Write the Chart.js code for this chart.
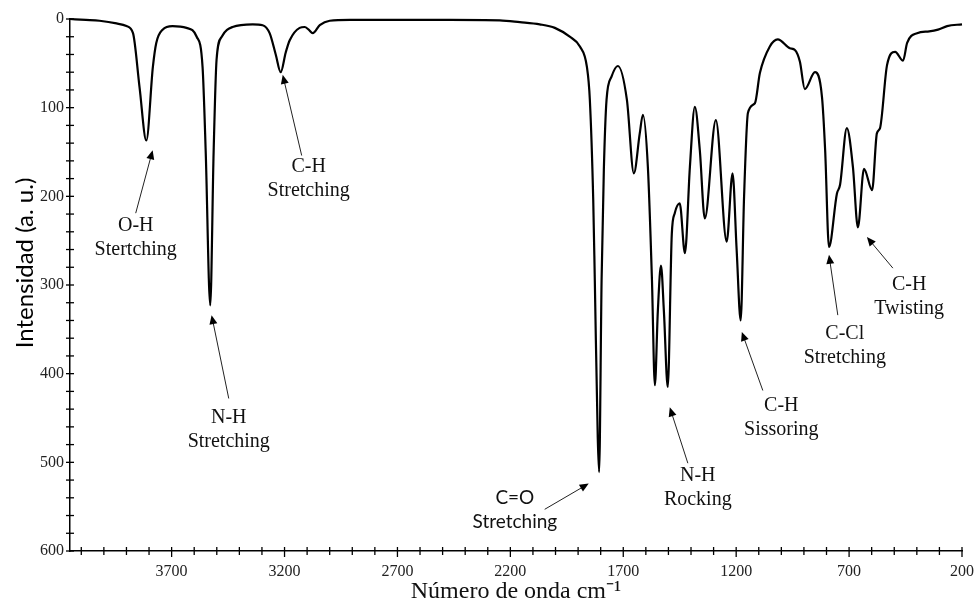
<!DOCTYPE html>
<html lang="es">
<head>
  <meta charset="UTF-8" />
  <title>Espectro IR</title>
  <script src="https://cdn.jsdelivr.net/npm/chart.js"></script>
  <style>
    body {
      margin: 0;
      background: #fff;
    }
    #wrap {
      width: 977px;
      height: 609px;
      position: relative;
    }
  </style>
</head>
<body>
  <div id="wrap"><canvas id="irChart"></canvas></div>

  <script>
    // spectrum (cm-1, a.u.)
    const wavenumber = [4150, 4080, 4019, 3944, 3900, 3871, 3842, 3812, 3783, 3768, 3740, 3696, 3634, 3589, 3563, 3549, 3529, 3514, 3501, 3478, 3430, 3341, 3297, 3266, 3239, 3217, 3195, 3177, 3133, 3111, 3093, 3075, 3044, 3000, 2911, 2700, 2468, 2247, 2158, 2070, 2003, 1937, 1892, 1861, 1848, 1833, 1826, 1813, 1807, 1796, 1786, 1774, 1752, 1724, 1684, 1653, 1627, 1613, 1591, 1573, 1560, 1547, 1533, 1520, 1503, 1485, 1472, 1450, 1427, 1405, 1383, 1361, 1339, 1290, 1242, 1216, 1198, 1180, 1165, 1148, 1117, 1095, 1051, 1016, 962, 940, 918, 896, 851, 820, 806, 789, 754, 740, 710, 683, 661, 634, 598, 577, 563, 532, 496, 461, 443, 399, 345, 306, 266, 200];
    const intensity = [0, 1, 2, 5, 8, 16, 77, 137, 54, 27, 12, 8, 10, 20, 54, 150, 323, 150, 46, 20, 9, 6, 7, 16, 40, 60, 38, 24, 10, 9, 12, 16, 7, 2, 1, 1, 1, 1.5, 3.5, 6, 10, 20, 31, 54, 91, 204, 295, 472, 511, 295, 170, 91, 65, 53, 91, 174, 129, 108, 167, 294, 413, 330, 278, 330, 415, 242, 219, 208, 264, 167, 99, 148, 225, 114, 251, 174, 260, 340, 200, 106, 95, 61, 31, 23, 33, 35, 48, 79, 60, 88, 148, 257, 197, 187, 123, 167, 235, 169, 193, 129, 123, 52, 37, 47, 27, 16, 14, 12, 8, 6];

    const xTickLabels = [3700, 3200, 2700, 2200, 1700, 1200, 700, 200];
    const yTickLabels = [0, 100, 200, 300, 400, 500, 600];

    // band assignments: text, label anchor, arrow tail, arrow head (cm-1, a.u.)
    const bandLabels = [['O-H', 'Stertching'], ['N-H', 'Stretching'], ['C-H', 'Stretching'], ['C=O', 'Stretching'], ['N-H', 'Rocking'], ['C-H', 'Sissoring'], ['C-Cl', 'Stretching'], ['C-H', 'Twisting']];
    const labelAt = [[3859, 233], [3447, 450], [3093, 167], [2180, 540], [1370, 515], [1000, 436], [719, 355], [434, 300]];
    const arrowFrom = [[3859, 219], [3447, 428], [3124, 154], [2048, 553], [1414, 501], [1082, 419], [750, 334], [506, 281]];
    const arrowTo = [[3784, 148], [3523, 334], [3208, 63], [1853, 524], [1494, 438], [1175, 353], [789, 266], [621, 246]];

    const points = wavenumber.map((w, i) => ({ x: w, y: intensity[i] }));

    const crossTicks = {
      id: 'crossTicks',
      afterDraw(chart) {
        const ctx = chart.ctx;
        const xs = chart.scales.x, ys = chart.scales.y;
        const area = chart.chartArea;
        ctx.save();
        ctx.strokeStyle = '#000';
        ctx.lineWidth = 1.3;
        xs.ticks.forEach(t => {
          const px = xs.getPixelForValue(t.value);
          const big = xTickLabels.includes(t.value);
          ctx.beginPath();
          ctx.moveTo(px, area.bottom - 4);
          ctx.lineTo(px, area.bottom + (big ? 6 : 4));
          ctx.stroke();
        });
        ys.ticks.forEach(t => {
          const py = ys.getPixelForValue(t.value);
          ctx.beginPath();
          ctx.moveTo(area.left - 4, py);
          ctx.lineTo(area.left + 4, py);
          ctx.stroke();
        });

        // y title
        ctx.fillStyle = '#000';
        ctx.font = '24px Lato';
        ctx.textAlign = 'center';
        ctx.textBaseline = 'middle';
        ctx.translate(25, 263);
        ctx.rotate(-Math.PI / 2);
        ctx.fillText('Intensidad (a. u.)', 0, 0);
        ctx.restore();

        // band labels and arrows
        ctx.save();
        ctx.textAlign = 'center';
        ctx.textBaseline = 'middle';
        bandLabels.forEach((lines, i) => {
          const lx = xs.getPixelForValue(labelAt[i][0]);
          const ly = ys.getPixelForValue(labelAt[i][1]);
          ctx.fillStyle = '#111';
          ctx.font = lines[0] === 'C=O' ? '19px Lato' : '20px "Liberation Serif"';
          ctx.fillText(lines[0], lx, ly);
          ctx.fillText(lines[1], lx, ly + 24);

          const x0 = xs.getPixelForValue(arrowFrom[i][0]);
          const y0 = ys.getPixelForValue(arrowFrom[i][1]);
          const x1 = xs.getPixelForValue(arrowTo[i][0]);
          const y1 = ys.getPixelForValue(arrowTo[i][1]);
          const a = Math.atan2(y1 - y0, x1 - x0);
          ctx.strokeStyle = '#222';
          ctx.lineWidth = 1;
          ctx.beginPath();
          ctx.moveTo(x0, y0);
          ctx.lineTo(x1 - 6 * Math.cos(a), y1 - 6 * Math.sin(a));
          ctx.stroke();
          ctx.fillStyle = '#000';
          ctx.beginPath();
          ctx.moveTo(x1, y1);
          ctx.lineTo(x1 - 9 * Math.cos(a) + 4 * Math.sin(a), y1 - 9 * Math.sin(a) - 4 * Math.cos(a));
          ctx.lineTo(x1 - 9 * Math.cos(a) - 4 * Math.sin(a), y1 - 9 * Math.sin(a) + 4 * Math.cos(a));
          ctx.closePath();
          ctx.fill();
        });
        ctx.restore();
      }
    };

    new Chart(document.getElementById('irChart'), {
      type: 'line',
      data: {
        datasets: [{
          data: points,
          borderColor: '#000',
          borderWidth: 2.2,
          pointRadius: 0,
          cubicInterpolationMode: 'monotone',
          fill: false,
          clip: false
        }]
      },
      options: {
        responsive: true,
        maintainAspectRatio: false,
        animation: false,
        events: [],
        layout: { padding: { left: 0, right: 15, top: 19, bottom: 0 } },
        plugins: {
          legend: { display: false },
          tooltip: { enabled: false }
        },
        scales: {
          x: {
            type: 'linear',
            reverse: true,
            min: 200,
            max: 4150,
            grid: { display: false, drawTicks: false },
            border: { display: true, color: '#000', width: 1.5 },
            afterBuildTicks: s => {
              const t = [];
              for (let v = 200; v <= 4100; v += 100) t.push({ value: v });
              s.ticks = t;
            },
            afterFit: s => { s.height = 58; },
            ticks: {
              autoSkip: false,
              maxRotation: 0,
              padding: 11,
              color: '#222',
              font: { family: '"Liberation Serif"', size: 16 },
              callback: v => xTickLabels.includes(v) ? String(v) : ''
            },
            title: {
              display: true,
              text: 'Número de onda cm⁻¹',
              color: '#111',
              font: { family: '"Liberation Serif"', size: 24 },
              padding: { top: 0, bottom: 3 }
            }
          },
          y: {
            reverse: true,
            min: 0,
            max: 600,
            grid: { display: false, drawTicks: false },
            border: { display: true, color: '#000', width: 1.5 },
            afterBuildTicks: s => {
              const t = [];
              for (let v = 0; v <= 600; v += 20) t.push({ value: v });
              s.ticks = t;
            },
            afterFit: s => { s.width = 70; },
            ticks: {
              autoSkip: false,
              padding: 6,
              color: '#222',
              font: { family: '"Liberation Serif"', size: 16 },
              callback: v => yTickLabels.includes(v) ? String(v) : ''
            }
          }
        }
      },
      plugins: [crossTicks]
    });
  </script>
</body>
</html>
